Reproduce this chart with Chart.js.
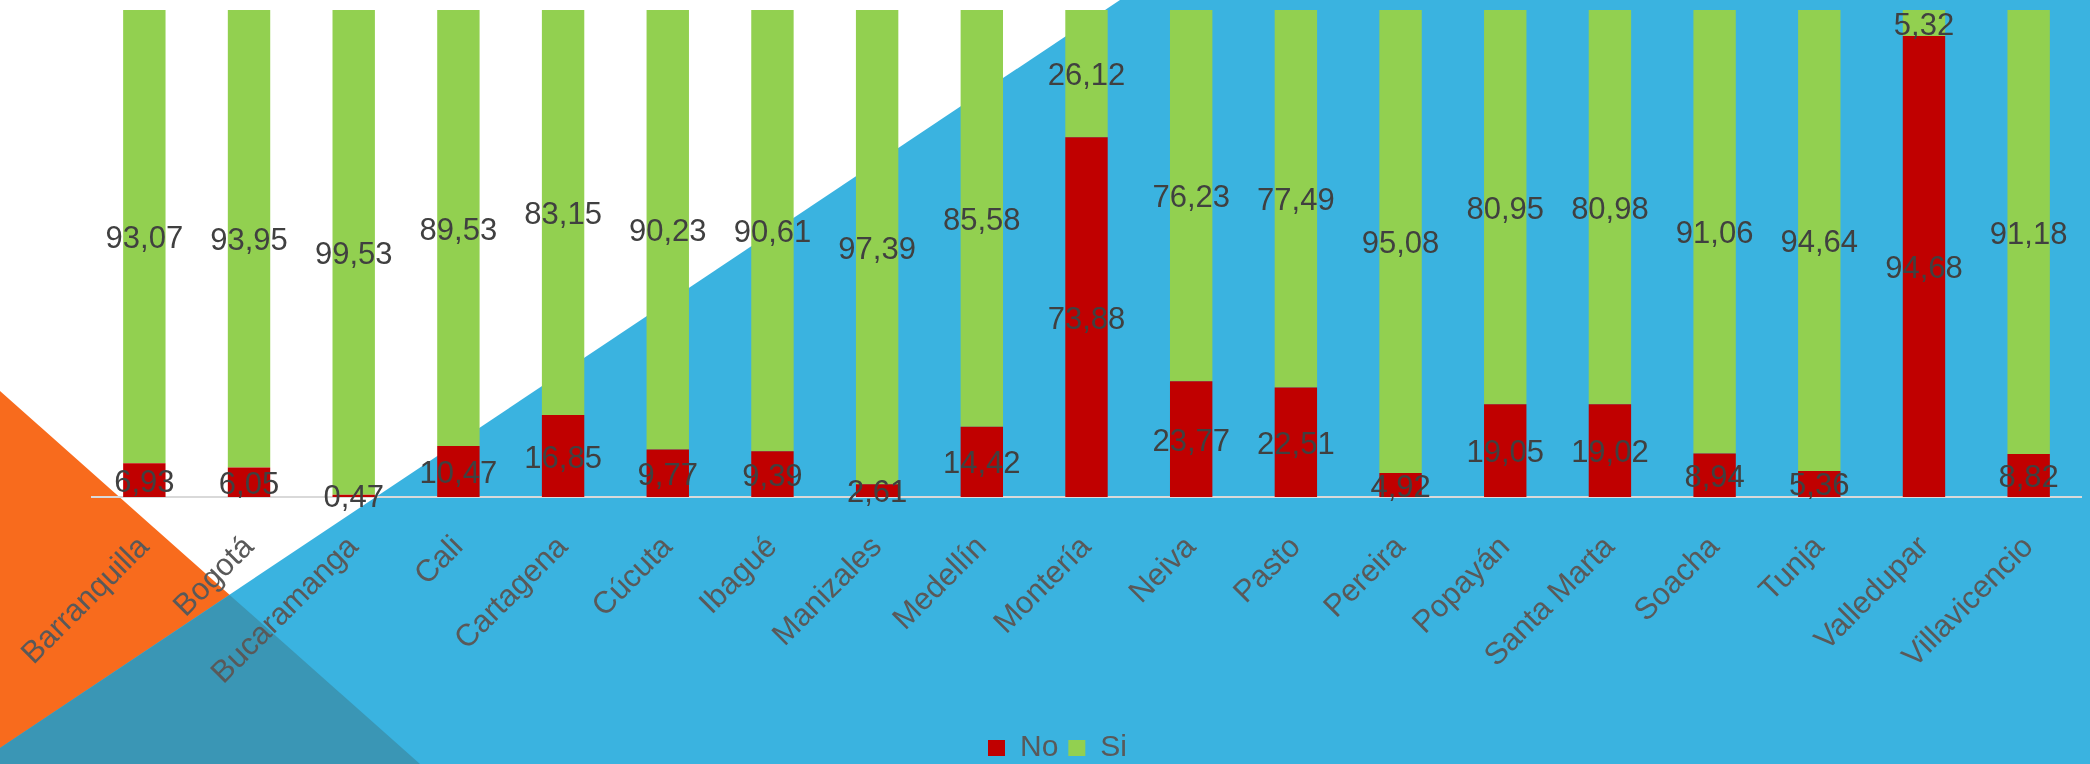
<!DOCTYPE html>
<html>
<head>
<meta charset="utf-8">
<script src="https://cdn.jsdelivr.net/npm/chart.js@4.4.1/dist/chart.umd.min.js"></script>
<style>
  html, body { margin: 0; padding: 0; background: #ffffff; overflow: hidden; }
  #wrap { position: relative; width: 2090px; height: 764px; }
  #bg { position: absolute; left: 0; top: 0; }
  #chart { position: absolute; left: 0; top: 0; }
</style>
</head>
<body>
<div id="wrap">
  <svg id="bg" width="2090" height="764" viewBox="0 0 2090 764">
    <rect x="0" y="0" width="2090" height="764" fill="#ffffff"/>
    <polygon points="0,391 420,764 0,764" fill="#F86B1D"/>
    <polygon points="1120,0 2090,0 2090,764 0,764 0,748" fill="#3AB3E0"/>
    <polygon points="229.6,594.9 420,764 0,764 0,748" fill="#3A96B5"/>
  </svg>
  <canvas id="chart" width="2090" height="764"></canvas>
</div>
<script>
const categories = ['Barranquilla','Bogotá','Bucaramanga','Cali','Cartagena','Cúcuta','Ibagué','Manizales','Medellín','Montería','Neiva','Pasto','Pereira','Popayán','Santa Marta','Soacha','Tunja','Valledupar','Villavicencio'];
const noValues = [6.93, 6.05, 0.47, 10.47, 16.85, 9.77, 9.39, 2.61, 14.42, 73.88, 23.77, 22.51, 4.92, 19.05, 19.02, 8.94, 5.36, 94.68, 8.82];
const siValues = [93.07, 93.95, 99.53, 89.53, 83.15, 90.23, 90.61, 97.39, 85.58, 26.12, 76.23, 77.49, 95.08, 80.95, 80.98, 91.06, 94.64, 5.32, 91.18];
const seriesNames = ['No', 'Si'];

const FONT = '"Liberation Sans", Arial, sans-serif';

const segmentLabels = {
  id: 'segmentLabels',
  afterDatasetsDraw(chart) {
    const ctx = chart.ctx;
    ctx.save();
    ctx.font = '31px ' + FONT;
    ctx.fillStyle = '#404040';
    ctx.textAlign = 'center';
    ctx.textBaseline = 'middle';
    chart.data.datasets.forEach((ds, di) => {
      const meta = chart.getDatasetMeta(di);
      meta.data.forEach((el, i) => {
        const p = el.getProps(['x', 'y', 'base'], true);
        const v = ds.data[i];
        ctx.fillText(v.toFixed(2).replace('.', ','), p.x, (p.y + p.base) / 2 + 3);
      });
    });
    ctx.restore();
  }
};

const legendShift = {
  id: 'legendShift',
  afterLayout(chart) {
    if (chart.legend) {
      chart.legend.left -= 29;
      chart.legend.right -= 29;
    }
  }
};

new Chart(document.getElementById('chart'), {
  type: 'bar',
  data: {
    labels: categories,
    datasets: [
      { label: seriesNames[0], data: noValues, backgroundColor: '#C00000', borderWidth: 0 },
      { label: seriesNames[1], data: siValues, backgroundColor: '#92D050', borderWidth: 0 }
    ]
  },
  options: {
    responsive: false,
    animation: false,
    devicePixelRatio: 1,
    layout: { padding: { left: 92, right: 9, top: 10, bottom: -9 } },
    datasets: { bar: { barPercentage: 0.405, categoryPercentage: 1.0 } },
    scales: {
      x: {
        stacked: true,
        grid: { display: false, drawTicks: false },
        border: { display: true, color: '#D9D9D9', width: 2 },
        ticks: {
          color: '#595959',
          font: { family: FONT, size: 31 },
          minRotation: 45,
          maxRotation: 45,
          autoSkip: false,
          padding: 32
        },
        afterFit(scale) {
          scale.height = 226;
          scale.paddingLeft = 0;
          scale.paddingRight = 0;
        }
      },
      y: {
        stacked: true,
        display: false,
        min: 0,
        max: 100
      }
    },
    plugins: {
      legend: {
        position: 'bottom',
        labels: {
          color: '#595959',
          font: { family: FONT, size: 30 },
          boxWidth: 17,
          boxHeight: 16,
          padding: 10
        }
      },
      tooltip: { enabled: false }
    }
  },
  plugins: [segmentLabels, legendShift]
});
</script>
</body>
</html>
